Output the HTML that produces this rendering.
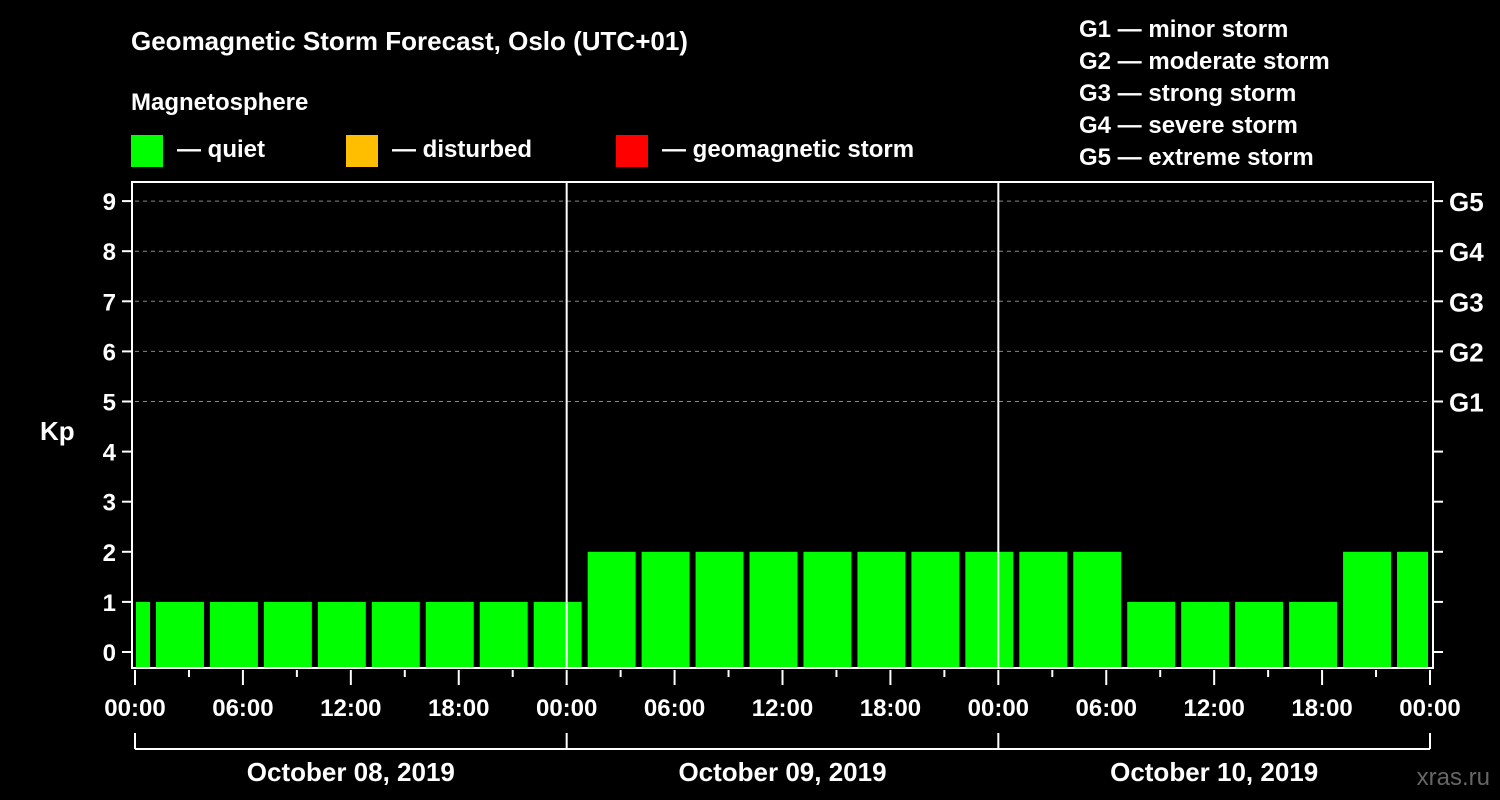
<!DOCTYPE html>
<html><head><meta charset="utf-8"><style>
html,body{margin:0;padding:0;background:#000;}
svg{display:block;font-family:"Liberation Sans",Arial,sans-serif;font-weight:bold;}
</style></head><body>
<svg id="c" width="1500" height="800" viewBox="0 0 1500 800">
<rect width="1500" height="800" fill="#000"/>
<text x="131" y="50" fill="#fff" font-size="26">Geomagnetic Storm Forecast, Oslo (UTC+01)</text>
<text x="131" y="110" fill="#fff" font-size="24">Magnetosphere</text>
<g><rect x="131" y="135" width="32" height="32" fill="#00ff00"/><text x="177" y="157" fill="#fff" font-size="24">— quiet</text></g>
<g><rect x="346" y="135" width="32" height="32" fill="#ffbf00"/><text x="392" y="157" fill="#fff" font-size="24">— disturbed</text></g>
<g><rect x="616" y="135" width="32" height="32" fill="#ff0000"/><text x="662" y="157" fill="#fff" font-size="24">— geomagnetic storm</text></g>
<g fill="#fff" font-size="24">
<text x="1079" y="37">G1 — minor storm</text>
<text x="1079" y="69">G2 — moderate storm</text>
<text x="1079" y="101">G3 — strong storm</text>
<text x="1079" y="133">G4 — severe storm</text>
<text x="1079" y="165">G5 — extreme storm</text>
</g>
<text x="40" y="440" fill="#fff" font-size="26">Kp</text>
<text x="1490" y="785" fill="#666" font-size="24" text-anchor="end" font-weight="normal">xras.ru</text>
<g id="layer"></g>
</svg>
<script>
const kpValues=[1,1,1,1,1,1,1,1,1,2,2,2,2,2,2,2,2,2,2,1,1,1,1,2,2];
const binStartHours=[-2,1,4,7,10,13,16,19,22,25,28,31,34,37,40,43,46,49,52,55,58,61,64,67,70];
const yTicks=[0,1,2,3,4,5,6,7,8,9];
const gLabels=["G1","G2","G3","G4","G5"];
const xTickLabels=["00:00","06:00","12:00","18:00","00:00","06:00","12:00","18:00","00:00","06:00","12:00","18:00","00:00"];
const dateLabels=["October 08, 2019","October 09, 2019","October 10, 2019"];
const L=135,R=1430,TOP=182,BOT=668;
const xs=h=>L+h*(R-L)/72;
const ys=k=>652-k*50.1;
const NS="http://www.w3.org/2000/svg";
const layer=document.getElementById('layer');
function mk(t,a,p){const e=document.createElementNS(NS,t);for(const k in a)e.setAttribute(k,a[k]);(p||layer).appendChild(e);return e;}
// grid
[5,6,7,8,9].forEach(k=>{const e=mk('line',{x1:L,x2:R,y1:ys(k),y2:ys(k),stroke:'#888','stroke-dasharray':'4,4','stroke-width':1});

});
// bars
kpValues.forEach((v,i)=>{let x0=xs(binStartHours[i])+3,x1=xs(binStartHours[i]+3)-3;x0=Math.max(x0,L+1);x1=Math.min(x1,R-2);
const e=mk('rect',{x:x0,y:ys(v),width:x1-x0,height:BOT-ys(v),fill:v>=5?'#ff0000':(v>=4?'#ffbf00':'#00ff00')});

});
// day separators
[24,48].forEach(h=>{const e=mk('line',{x1:xs(h),x2:xs(h),y1:TOP,y2:BOT,stroke:'#fff','stroke-width':2});

});
// frame
const fr=mk('rect',{x:132,y:TOP,width:1301,height:BOT-TOP,fill:'none',stroke:'#fff','stroke-width':2});


// y ticks
yTicks.forEach(k=>{mk('line',{x1:122,x2:132,y1:ys(k),y2:ys(k),stroke:'#fff','stroke-width':2});
mk('line',{x1:1433,x2:1443,y1:ys(k),y2:ys(k),stroke:'#fff','stroke-width':2});
const t=mk('text',{x:116,y:ys(k)+9,fill:'#fff','font-size':24,'text-anchor':'end'});t.textContent=k;

});
gLabels.forEach((g,i)=>{const t=mk('text',{x:1449,y:ys(5+i)+10,fill:'#fff','font-size':26});t.textContent=g;

});
// x ticks
for(let h=0;h<=72;h+=3){const major=h%6===0;mk('line',{x1:xs(h),x2:xs(h),y1:670,y2:major?685:677,stroke:'#fff','stroke-width':2});}
xTickLabels.forEach((s,i)=>{const t=mk('text',{x:xs(i*6),y:716,fill:'#fff','font-size':24,'text-anchor':'middle'});t.textContent=s;

});
// date bracket
mk('line',{x1:L,x2:R,y1:749,y2:749,stroke:'#fff','stroke-width':2});
[0,24,48,72].forEach(h=>mk('line',{x1:xs(h),x2:xs(h),y1:733,y2:749,stroke:'#fff','stroke-width':2}));
dateLabels.forEach((d,i)=>{const t=mk('text',{x:xs(i*24+12),y:781,fill:'#fff','font-size':26,'text-anchor':'middle'});t.textContent=d;

});
</script>
</body></html>
